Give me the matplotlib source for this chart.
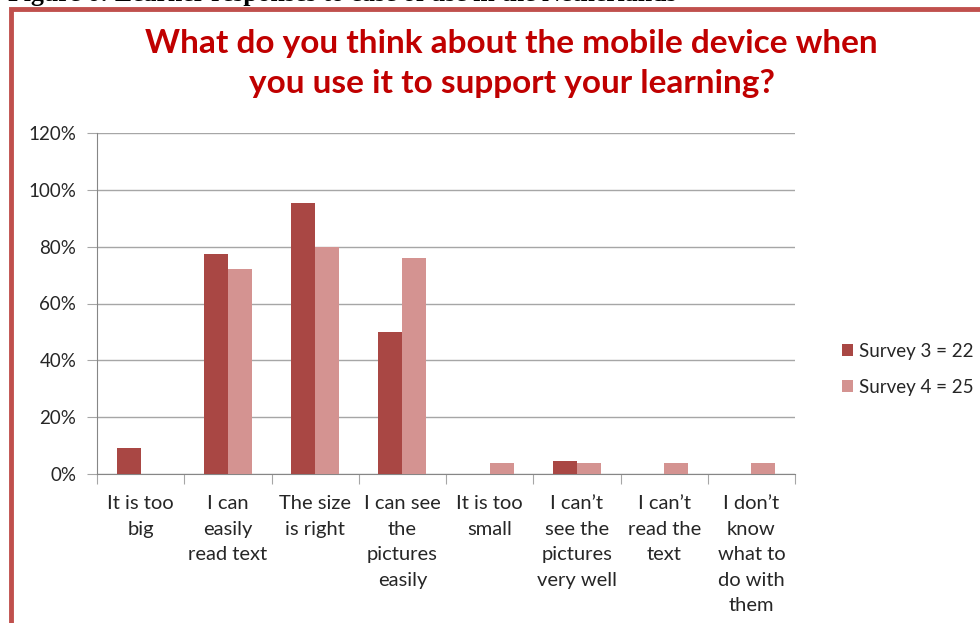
import matplotlib.pyplot as plt
import numpy as np
from matplotlib.patches import Rectangle

categories = [
    "It is too\nbig",
    "I can\neasily\nread text",
    "The size\nis right",
    "I can see\nthe\npictures\neasily",
    "It is too\nsmall",
    "I can\u2019t\nsee the\npictures\nvery well",
    "I can\u2019t\nread the\ntext",
    "I don\u2019t\nknow\nwhat to\ndo with\nthem",
]
survey3 = [9.1, 77.3, 95.5, 50.0, 0.0, 4.5, 0.0, 0.0]
survey4 = [0.0, 72.0, 80.0, 76.0, 4.0, 4.0, 4.0, 4.0]
series_names = ["Survey 3 = 22", "Survey 4 = 25"]
y_ticks = [0, 20, 40, 60, 80, 100, 120]

dark = "#A94744"
light = "#D49391"
grid_col = "#A6A6A6"
text_col = "#262626"

plt.rcParams['font.family'] = ['Lato', 'DejaVu Sans']

fig = plt.figure(figsize=(9.8, 6.23), dpi=100)

# caption above the chart box, clipped by the top edge as in the source
fig.text(0.008, 1 - 1.5 / 623, "Figure 6: Learner responses to ease of use in the Netherlands",
         family=['Liberation Serif'], fontweight='bold', fontsize=18.5, va='baseline', ha='left')

# red frame around the chart
fig.patches.append(Rectangle((11 / 980, -0.05), 1.2, 1 - 9 / 623 + 0.05,
                             transform=fig.transFigure, fill=False,
                             edgecolor="#C0504D", linewidth=3.5, zorder=5))

fig.text(0.522, 1 - 44 / 623, "What do you think about the mobile device when",
         color="#C00000", fontsize=24, fontweight='bold', ha='center', va='center')
fig.text(0.522, 1 - 83 / 623, "you use it to support your learning?",
         color="#C00000", fontsize=24, fontweight='bold', ha='center', va='center')

ax = fig.add_axes([97 / 980, 1 - 474 / 623, (795 - 97) / 980, (474 - 133) / 623])

x = np.arange(len(categories))
w = 0.275
ax.bar(x - w / 2, survey3, w, color=dark, label=series_names[0], zorder=3)
ax.bar(x + w / 2, survey4, w, color=light, label=series_names[1], zorder=3)

ax.set_xlim(-0.5, len(categories) - 0.5)
ax.set_ylim(0, 120)
ax.set_yticks(y_ticks)
ax.set_yticklabels([f"{v}%" for v in y_ticks], fontsize=13.5, color=text_col)
ax.yaxis.grid(True, color=grid_col, linewidth=1, zorder=0)
ax.tick_params(axis='y', length=7, color=grid_col, pad=8)

ax.set_xticks(np.arange(-0.5, len(categories), 1.0))
ax.set_xticklabels([])
ax.tick_params(axis='x', length=7, color=grid_col)
for i, lab in enumerate(categories):
    ax.text(i, -7.5, lab, ha='center', va='top', fontsize=14.5, linespacing=1.6,
            color=text_col)

for s in ['top', 'right']:
    ax.spines[s].set_visible(False)
for s in ['left', 'bottom']:
    ax.spines[s].set_color("#868686")

leg = fig.legend(loc='upper left', bbox_to_anchor=(825 / 980, 1 - 326 / 623), frameon=False,
                 fontsize=13.5, handlelength=0.6, handleheight=0.6, handletextpad=0.3,
                 labelspacing=1.0)
for t in leg.get_texts():
    t.set_color(text_col)

fig.savefig("out.png", dpi=100)
